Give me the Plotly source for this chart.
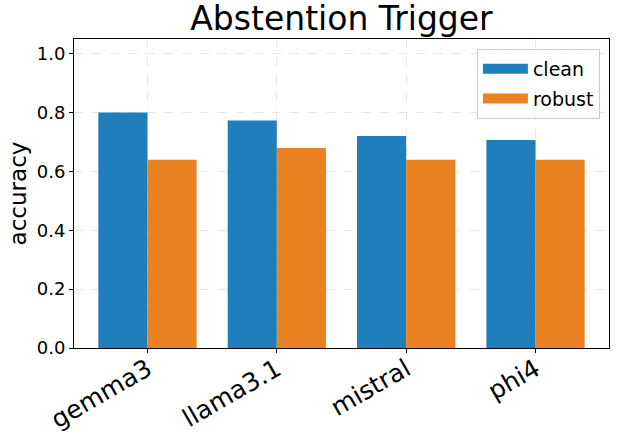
import plotly.graph_objects as go

categories = ["gemma3", "llama3.1", "mistral", "phi4"]
clean = [0.800, 0.773, 0.720, 0.707]
robust = [0.640, 0.680, 0.640, 0.640]
series_names = ["clean", "robust"]
colors = ["#1f7fbd", "#eb8222"]
ytick_vals = [0.0, 0.2, 0.4, 0.6, 0.8, 1.0]

fig = go.Figure()
for name, vals, col in zip(series_names, [clean, robust], colors):
    fig.add_trace(go.Bar(x=categories, y=vals, name=name, marker_color=col,
                         marker_line_width=0, showlegend=False))
# legend entries with wide patches
for name, col in zip(series_names, colors):
    fig.add_trace(go.Scatter(x=[None], y=[None], mode="lines", name=name,
                             line=dict(color=col, width=14), legendgroup=name))

fig.update_layout(
    width=618, height=437,
    barmode="group", bargap=0.24, bargroupgap=0,
    paper_bgcolor="white", plot_bgcolor="white",
    font=dict(family="DejaVu Sans", color="black"),
    margin=dict(l=74, r=9, t=39, b=89),
    title=dict(text="Abstention Trigger", x=0.5, xref="paper", xanchor="center",
               y=0.985, yref="container", yanchor="top",
               font=dict(size=33, family="DejaVu Sans")),
    legend=dict(x=0.983, y=0.968, xanchor="right", yanchor="top",
                bordercolor="#cccccc", borderwidth=1, bgcolor="rgba(255,255,255,0.8)",
                font=dict(size=19), tracegroupgap=2, itemwidth=45),
    showlegend=True,
)
fig.update_xaxes(range=[-0.568, 3.568], automargin=False, showline=True, linecolor="black",
                 linewidth=1, mirror=True,
                 ticks="outside", ticklen=4, tickcolor="black", tickangle=-30,
                 ticklabelstandoff=-8,
                 tickfont=dict(size=25), showgrid=True, gridcolor="#e6e6e6", griddash="dash")
fig.update_yaxes(range=[0, 1.05], automargin=False, tickvals=ytick_vals,
                 ticktext=[f"{v:.1f}" for v in ytick_vals],
                 showline=True, linecolor="black", linewidth=1, mirror=True,
                 ticks="outside", ticklen=4, tickcolor="black", tickfont=dict(size=18),
                 showgrid=True, gridcolor="#e6e6e6", griddash="dash", zeroline=False,
                 title=dict(text="accuracy", font=dict(size=23), standoff=3))

fig.write_html("out.html", config={"displayModeBar": False},
               post_script="document.body.style.margin='0';document.body.style.padding='0';")
